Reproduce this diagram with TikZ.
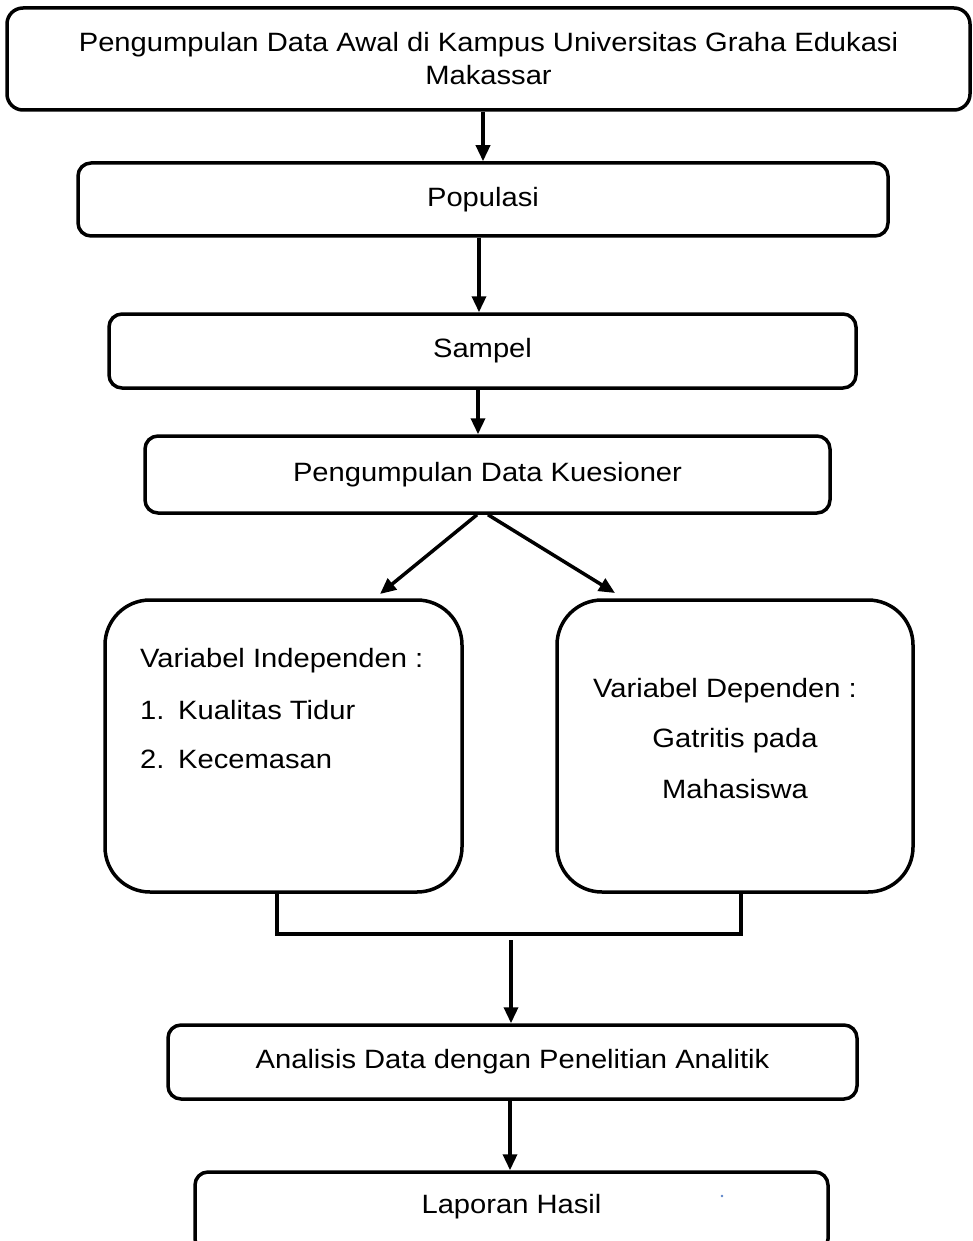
\documentclass[tikz,border=0pt]{standalone}
\usepackage{fontspec}
\setmainfont[FakeStretch=1.1]{Liberation Sans}
\usetikzlibrary{arrows.meta}
\definecolor{dotblue}{RGB}{90,130,200}
\begin{document}
\begin{tikzpicture}[x=1pt,y=-1pt,
  flowbox/.style={draw=black, line width=3.5pt, rounded corners=13pt, inner sep=0pt, align=center, font=\fontsize{26.5}{33}\selectfont},
  bigbox/.style={draw=black, line width=3.5pt, rounded corners=45pt, inner sep=0pt},
  lbl/.style={inner sep=0pt, font=\fontsize{26.5}{33}\selectfont},
  arr/.style={line width=3.5pt, -{Triangle[length=16pt,width=14pt]}},
  ln/.style={line width=3.5pt}]
\useasboundingbox (0,0) rectangle (972,1241);
\clip (0,0) rectangle (972,1241);

\node[flowbox, minimum width=963pt, minimum height=102pt, rounded corners=16pt] (b1) at (488.5,59) {Pengumpulan Data Awal di Kampus Universitas Graha Edukasi\\Makassar};
\node[flowbox, minimum width=810pt, minimum height=73pt] (b2) at (483,199.5) {Populasi};
\node[flowbox, minimum width=747pt, minimum height=74pt] (b3) at (482.5,351) {Sampel};
\node[flowbox, minimum width=685pt, minimum height=77pt] (b4) at (487.5,474.5) {Pengumpulan Data Kuesioner};
\node[bigbox, minimum width=357pt, minimum height=292pt] (b5) at (283.5,746) {};
\node[bigbox, minimum width=356pt, minimum height=292pt] (b6) at (735,746) {};
\node[flowbox, minimum width=689pt, minimum height=74pt] (b7) at (512.5,1062) {Analisis Data dengan Penelitian Analitik};
\node[flowbox, minimum width=633pt, minimum height=80pt] (b8) at (511.5,1212) {};
\node[lbl, anchor=base] (l8) at (511.5,1213.5) {Laporan Hasil};

\node[lbl, anchor=base west] (v1) at (140,667) {Variabel Independen :};
\node[lbl, anchor=base west] (v2) at (140,719) {\makebox[38pt][l]{1.}Kualitas Tidur};
\node[lbl, anchor=base west] (v3) at (140,768) {\makebox[38pt][l]{2.}Kecemasan};

\node[lbl, anchor=base] (w1) at (725,697) {Variabel Dependen :};
\node[lbl, anchor=base] (w2) at (735,747) {Gatritis pada};
\node[lbl, anchor=base] (w3) at (735,798) {Mahasiswa};

\coordinate (x1) at (483,0);
\coordinate (x2) at (479,0);
\coordinate (x3) at (478,0);
\coordinate (x5) at (510,0);
\draw[arr] (b1.south -| x1) -- (b2.north -| x1);
\draw[arr] (b2.south -| x2) -- (b3.north -| x2);
\draw[arr] (b3.south -| x3) -- (b4.north -| x3);

\coordinate (d1) at (477,0);
\coordinate (d2) at (488,0);
\coordinate (t1) at (380,594);
\coordinate (t2) at (615,593);
\draw[arr] (b4.south -| d1) -- (t1);
\draw[arr] (b4.south -| d2) -- (t2);

\coordinate (bl) at (277,934);
\coordinate (br) at (741,934);
\draw[ln] (b5.south -| bl) -- (bl) -- (br) -- (b6.south -| br);
\coordinate (as) at (511,940);
\draw[arr] (as) -- (b7.north -| as);
\draw[arr] (b7.south -| x5) -- (b8.north -| x5);

\fill[dotblue] (722,1196) circle (1.3pt);
\end{tikzpicture}
\end{document}
